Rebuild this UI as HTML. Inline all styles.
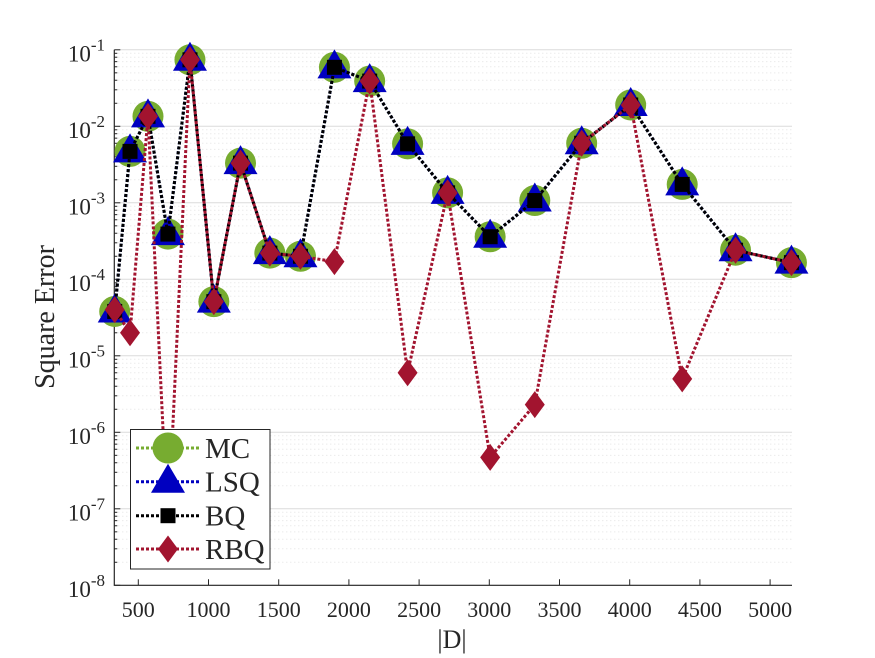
<!DOCTYPE html>
<html><head><meta charset="utf-8"><style>
body{margin:0;background:#fff;}
svg{display:block;font-family:"Liberation Serif",serif;}
</style></head><body>
<svg id="chart" width="875" height="658" viewBox="0 0 875 658" xmlns="http://www.w3.org/2000/svg">
<rect width="875" height="658" fill="#fff"/>
<g id="grid"></g>
<g id="axes"></g>
<g id="series"></g>
<g id="legend"></g>
</svg>
<script>
const dValues=[332,441,569,711,868,1038,1228,1437,1655,1897,2148,2418,2703,3006,3324,3658,4007,4374,4754,5152];
const mcValues=[3.8e-5,4.7e-3,1.35e-2,3.9e-4,7.4e-2,5.1e-5,3.3e-3,2.2e-4,2.0e-4,5.9e-2,3.9e-2,5.9e-3,1.35e-3,3.6e-4,1.07e-3,6e-3,1.9e-2,1.74e-3,2.4e-4,1.65e-4];
const lsqValues=[3.8e-5,4.7e-3,1.35e-2,3.9e-4,7.4e-2,5.1e-5,3.3e-3,2.2e-4,2.0e-4,5.9e-2,3.9e-2,5.9e-3,1.35e-3,3.6e-4,1.07e-3,6e-3,1.9e-2,1.74e-3,2.4e-4,1.65e-4];
const bqValues=[3.8e-5,4.7e-3,1.35e-2,3.9e-4,7.4e-2,5.1e-5,3.3e-3,2.2e-4,2.0e-4,5.9e-2,3.9e-2,5.9e-3,1.35e-3,3.6e-4,1.07e-3,6e-3,1.9e-2,1.74e-3,2.4e-4,1.65e-4];
const rbqValues=[4.0e-5,2.0e-5,1.35e-2,5e-8,7.4e-2,5.1e-5,3.3e-3,2.2e-4,2.0e-4,1.7e-4,3.9e-2,6e-6,1.35e-3,4.7e-7,2.3e-6,6e-3,1.9e-2,5e-6,2.4e-4,1.65e-4];
const xTicks=[500,1000,1500,2000,2500,3000,3500,4000,4500,5000];
const yExps=[-1,-2,-3,-4,-5,-6,-7,-8];
const seriesNames=["MC","LSQ","BQ","RBQ"];

const NS="http://www.w3.org/2000/svg";
const L=114.3,R=792,T=49.8,B=585.3;
function xs(v){return 138.3+(v-500)*(70.2/500);}
function ys(v){return T+(-1-Math.log10(v))*((B-T)/7);}
function mk(tag,attrs,parent){const e=document.createElementNS(NS,tag);for(const k in attrs)e.setAttribute(k,attrs[k]);parent.appendChild(e);return e;}
const grid=document.getElementById('grid'),axes=document.getElementById('axes'),ser=document.getElementById('series'),leg=document.getElementById('legend');

for(let e=-8;e<=-1;e++){
  const y=ys(Math.pow(10,e));
  const g=mk('line',{x1:L,x2:R,y1:y,y2:y,stroke:'#dcdcdc','stroke-width':1},grid);
  
  
  if(e<-1){for(let m=2;m<=9;m++){const ym=ys(m*Math.pow(10,e));
    const gm=mk('line',{x1:L,x2:R,y1:ym,y2:ym,stroke:'#e2e2e2','stroke-width':1,'stroke-dasharray':'1,3'},grid);
    
    
    const tm=mk('line',{x1:L,x2:L+3,y1:ym,y2:ym,stroke:'#262626','stroke-width':1},axes);
    
    
  }}
}
const ax=mk('path',{d:`M${L},${T} L${L},${B} L${R},${B}`,fill:'none',stroke:'#262626','stroke-width':1.2},axes);


xTicks.forEach(v=>{const x=xs(v);
  const t=mk('line',{x1:x,x2:x,y1:B,y2:B-6,stroke:'#262626','stroke-width':1},axes);
  
  
  const tx=mk('text',{x:x,y:617,'text-anchor':'middle','font-size':22,fill:'#262626'},axes);tx.textContent=v;
  
  
});
yExps.forEach(e=>{const y=ys(Math.pow(10,e));
  const t=mk('line',{x1:L,x2:L+6,y1:y,y2:y,stroke:'#262626','stroke-width':1},axes);
  
  
  const tx=mk('text',{x:105,y:y+11.5,'text-anchor':'end','font-size':23,fill:'#262626'},axes);
  
  
  const a=document.createElementNS(NS,'tspan');a.textContent='10';tx.appendChild(a);
  const b=document.createElementNS(NS,'tspan');b.setAttribute('dy','-11');b.setAttribute('font-size','17');b.textContent=String(e);tx.appendChild(b);
});
const xl=mk('text',{x:452,y:648,'text-anchor':'middle','font-size':26,fill:'#262626'},axes);xl.textContent='|D|';


const yl=mk('text',{x:0,y:0,'text-anchor':'middle','font-size':28,fill:'#262626',transform:'translate(54,317) rotate(-90)'},axes);yl.textContent='Square Error';



function marker(kind,x,y,parent){
  let e;
  if(kind==='MC')e=mk('circle',{cx:x,cy:y,r:15.5,fill:'#77AC30'},parent);
  else if(kind==='LSQ')e=mk('polygon',{points:`${x},${y-18} ${x-17},${y+11} ${x+17},${y+11}`,fill:'#0000C0'},parent);
  else if(kind==='BQ')e=mk('rect',{x:x-7.5,y:y-7.5,width:15,height:15,fill:'#000'},parent);
  else e=mk('polygon',{points:`${x},${y-13.5} ${x+10},${y} ${x},${y+13.5} ${x-10},${y}`,fill:'#A2142F'},parent);
  return e;
}
const colors={MC:'#77AC30',LSQ:'#0000C0',BQ:'#000000',RBQ:'#A2142F'};
const dataMap={MC:mcValues,LSQ:lsqValues,BQ:bqValues,RBQ:rbqValues};
seriesNames.forEach(n=>{
  const vals=dataMap[n];
  const g=mk('g',{},ser);
  
  
  const pts=dValues.map((d,i)=>xs(d)+','+ys(vals[i])).join(' ');
  const pl=mk('polyline',{points:pts,fill:'none',stroke:colors[n],'stroke-width':3,'stroke-dasharray':'3,2'},g);
  
  
  dValues.forEach((d,i)=>{const m=marker(n,xs(d),ys(vals[i]),g);
    
    
  });
});
const lb=mk('rect',{x:130.5,y:429.5,width:139.5,height:139.5,fill:'#fff',stroke:'#262626','stroke-width':1},leg);


const legY=[448,481.7,515.7,549];
seriesNames.forEach((n,i)=>{
  const g=mk('g',{},leg);
  
  
  mk('line',{x1:136,x2:199,y1:legY[i],y2:legY[i],stroke:colors[n],'stroke-width':3,'stroke-dasharray':'3,2'},g);
  marker(n,168,legY[i],g);
  const t=mk('text',{x:205,y:legY[i]+10,'font-size':29,fill:'#262626'},g);t.textContent=n;
});
</script>
</body></html>
